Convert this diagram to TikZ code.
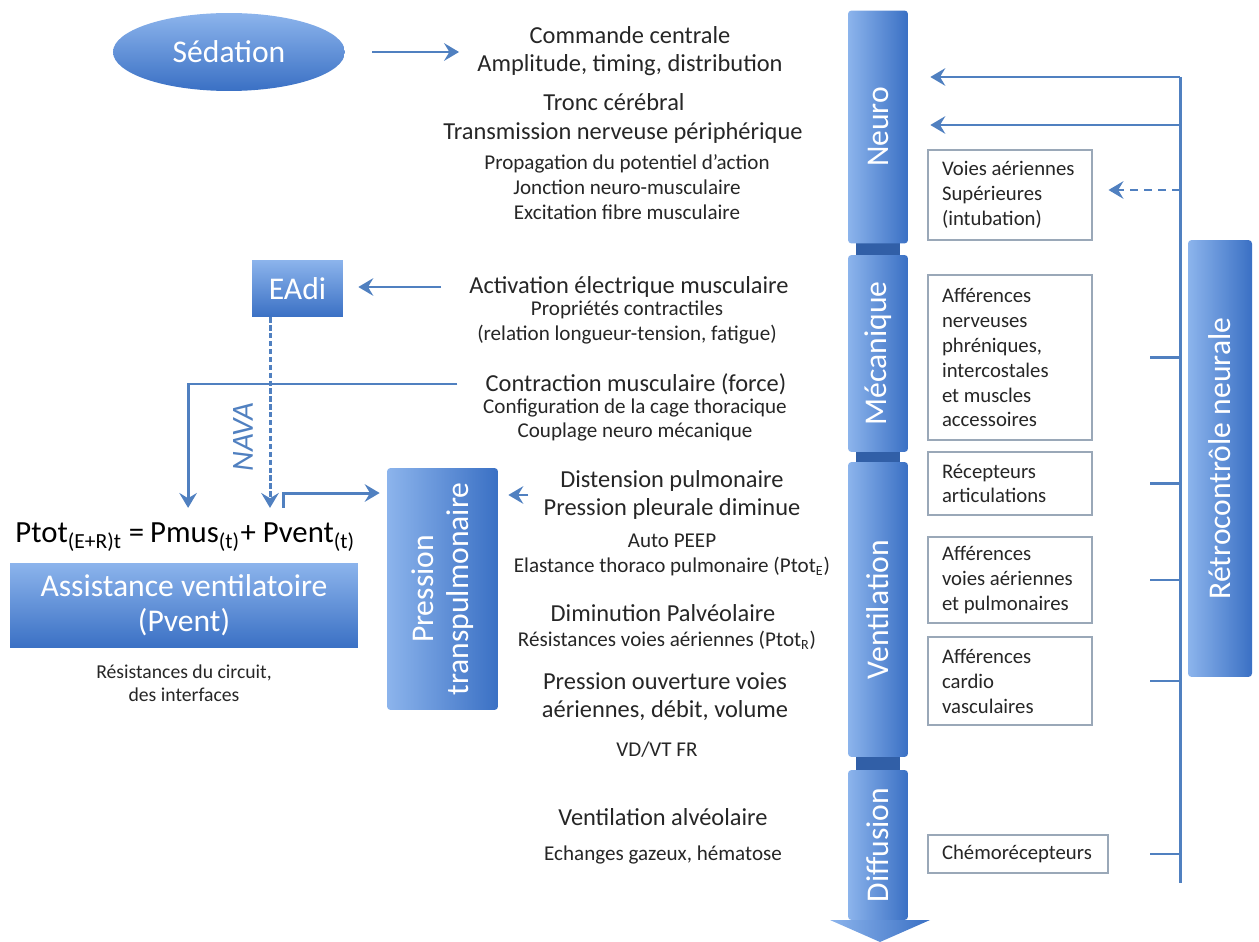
\documentclass[tikz,border=0pt]{standalone}
\usepackage{fontspec}
\setmainfont{Carlito}
\usetikzlibrary{positioning, arrows.meta, shapes.geometric}
\definecolor{colLight}{HTML}{8CB4EC}
\definecolor{colDark}{HTML}{3A70C4}
\definecolor{lineBlue}{HTML}{5080C0}
\definecolor{boxGray}{HTML}{9AA8B8}
\definecolor{txtGray}{HTML}{262626}
\newcommand{\bigtxt}{\fontsize{13.9}{16}\selectfont}
\newcommand{\smalltxt}{\fontsize{12}{14.2}\selectfont}
\newcommand{\boxtxt}{\fontsize{11.8}{14.2}\selectfont}
\newcommand{\circtxt}{\fontsize{11.2}{13}\selectfont}
\newcommand{\labtxt}{\fontsize{18}{20}\selectfont}
\newcommand{\eqtxt}{\fontsize{17.5}{20}\selectfont}

\begin{document}
\begin{tikzpicture}[x=0.02cm, y=-0.02cm,
	fbline/.style={draw=lineBlue, line width=1.7pt},
	fbarrow/.style={fbline, -{Stealth[length=8.5pt, width=10pt, inset=3pt]}},
	col/.style={rotate=90, inner sep=0pt, left color=colLight, right color=colDark, text=white, font=\labtxt, rounded corners=2pt, align=center},
	blk/.style={inner sep=0pt, top color=colLight, bottom color=colDark, text=white, font=\labtxt},
	fbox/.style={draw=boxGray, line width=0.6pt, fill=white, text=txtGray, font=\boxtxt, align=flush left, text width=2.72cm, inner xsep=0.28cm, minimum width=3.28cm},
	mid/.style={inner sep=0pt, text=txtGray, align=center},
	eq/.style={inner sep=0pt, text=black, font=\eqtxt}]
	\useasboundingbox (0,0) rectangle (1259,942);
	\fill[colDark!85!black] (856,20) rectangle (900,915);
	\node[col, minimum width=4.66cm, minimum height=1.2cm] (neuro) at (878,127) {Neuro};
	\node[col, minimum width=3.94cm, minimum height=1.2cm] (meca) at (878,353.5) {Mécanique};
	\node[col, minimum width=5.9cm, minimum height=1.2cm] (venti) at (878,609.5) {Ventilation};
	\node[col, minimum width=3cm, minimum height=1.2cm] (diff) at (878,845) {Diffusion};
	\shade[left color=colLight, right color=colDark] (830,920) -- (930,920) -- (880,942) -- cycle;
	\node[col, minimum width=8.74cm, minimum height=1.28cm] (retro) at (1220,458.5) {Rétrocontrôle neurale};
	\node[fbox, minimum height=1.8cm] (voies) at (1010,195) {Voies aériennes\\Supérieures\\(intubation)};
	\node[fbox, minimum height=3.3cm] (aff1) at (1010,357.5) {Afférences\\nerveuses\\phréniques,\\intercostales\\et muscles\\accessoires};
	\node[fbox, minimum height=1.26cm] (recep) at (1010,483.5) {Récepteurs\\articulations};
	\node[fbox, minimum height=1.72cm] (aff2) at (1010,580) {Afférences\\voies aériennes\\et pulmonaires};
	\node[fbox, minimum height=1.76cm] (cardio) at (1010,681) {Afférences\\cardio\\vasculaires};
	\node[fbox, text width=3.04cm, minimum width=3.6cm, minimum height=0.76cm] (chemo) at (1018,854) {Chémorécepteurs};
	\coordinate (fbTop) at (1180,77);
	\coordinate (fbMid) at (1180,125);
	\coordinate (fbDash) at (1180,190);
	\coordinate (fbBot) at (1180,883);
	\draw[fbline] (fbTop) -- (fbBot);
	\draw[fbarrow, shorten >=0.44cm] (fbTop) -- (fbTop -| neuro.south);
	\draw[fbarrow, shorten >=0.44cm] (fbMid) -- (fbMid -| neuro.south);
	\draw[fbarrow, dash pattern=on 4.5pt off 3.5pt, shorten >=0.32cm] (fbDash) -- (fbDash -| voies.east);
	\foreach \b in {aff1, recep, aff2, cardio, chemo}
		\draw[fbline] (\b.east -| fbTop) -- ++(-30,0);
	\node[blk, ellipse, minimum width=4.64cm, minimum height=1.56cm] (sed) at (229,52) {Sédation};
	\node[mid, font=\bigtxt] (cmd) at (630,51) {Commande centrale\\Amplitude, timing, distribution};
	\node[mid, font=\bigtxt] (tronc) at (614,102) {Tronc cérébral};
	\node[mid, font=\bigtxt] (trans) at (623,133) {Transmission nerveuse périphérique};
	\node[mid, font=\smalltxt] (prop) at (627,187) {Propagation du potentiel d’action\\Jonction neuro-musculaire\\Excitation fibre musculaire};
	\node[mid, font=\bigtxt] (activ) at (629,287) {Activation électrique musculaire};
	\node[mid, font=\smalltxt, text depth=0pt] (propr) at (627,321) {Propriétés contractiles\\(relation longueur-tension, fatigue)};
	\node[mid, font=\bigtxt] (contr) at (636,384) {Contraction musculaire (force)};
	\node[mid, font=\smalltxt] (config) at (635,420) {Configuration de la cage thoracique\\Couplage neuro mécanique};
	\node[mid, font=\bigtxt] (distn) at (672,495) {Distension pulmonaire\\Pression pleurale diminue};
	\node[mid, font=\smalltxt] (peep) at (672,555) {Auto PEEP\\Elastance thoraco pulmonaire (Ptot\textsubscript{E})};
	\node[mid, font=\bigtxt] (dimin) at (663,613) {Diminution Palvéolaire};
	\node[mid, font=\smalltxt] (resis) at (667,640) {Résistances voies aériennes (Ptot\textsubscript{R})};
	\node[mid, font=\bigtxt] (ouv) at (665,697) {Pression ouverture voies\\aériennes, débit, volume};
	\node[mid, font=\smalltxt] (vdvt) at (657,750) {VD/VT FR};
	\node[mid, font=\bigtxt] (vental) at (663,817) {Ventilation alvéolaire};
	\node[mid, font=\smalltxt] (echan) at (663,855) {Echanges gazeux, hématose};
	\node[blk, minimum width=1.82cm, minimum height=1.14cm] (eadi) at (297.5,288.5) {EAdi};
	\node[col, minimum width=4.84cm, minimum height=2.22cm] (pres) at (442.5,589) {Pression\\transpulmonaire};
	\node[eq, anchor=base west] (ptot) at (15,543) {Ptot\textsubscript{(E+R)t} =};
	\node[eq, anchor=base west] (pmus) at ([xshift=3pt]ptot.base east) {Pmus\textsubscript{(t)}};
	\node[eq, anchor=base west] (pvent) at (pmus.base east) {+ Pvent\textsubscript{(t)}};
	\node[blk, minimum width=6.96cm, minimum height=1.7cm, align=center] (assist) at (184,605.5) {Assistance ventilatoire\\(Pvent)};
	\node[mid, font=\circtxt, below=0.32cm of assist] (circ) {Résistances du circuit,\\des interfaces};
	\node[rotate=90, inner sep=0pt, text=lineBlue, font=\eqtxt\itshape] (nava) at (243,437) {NAVA};
	\draw[fbarrow, shorten <=0.54cm, shorten >=0.36cm] (sed.east) -- (sed.east -| cmd.west);
	\draw[fbarrow, shorten <=0.56cm, shorten >=0.3cm] (activ.west) -- (activ.west -| eadi.east);
	\draw[fbarrow, shorten <=0.56cm, shorten >=0.3cm] (contr.west) -| ([xshift=-0.14cm]pmus.north);
	\draw[fbarrow, dash pattern=on 3pt off 1.5pt, shorten >=0.3cm] ([xshift=-0.55cm]eadi.south) -- ([xshift=-0.55cm]eadi.south |- pvent.north);
	\draw[fbarrow, shorten <=0.3cm, shorten >=0.14cm] ([xshift=0.86cm]pvent.north west) |- ([yshift=1.92cm]pres.north);
	\draw[fbarrow, shorten <=0.3cm, shorten >=0.2cm] (distn.west) -- (distn.west -| pres.south);
\end{tikzpicture}
\end{document}
